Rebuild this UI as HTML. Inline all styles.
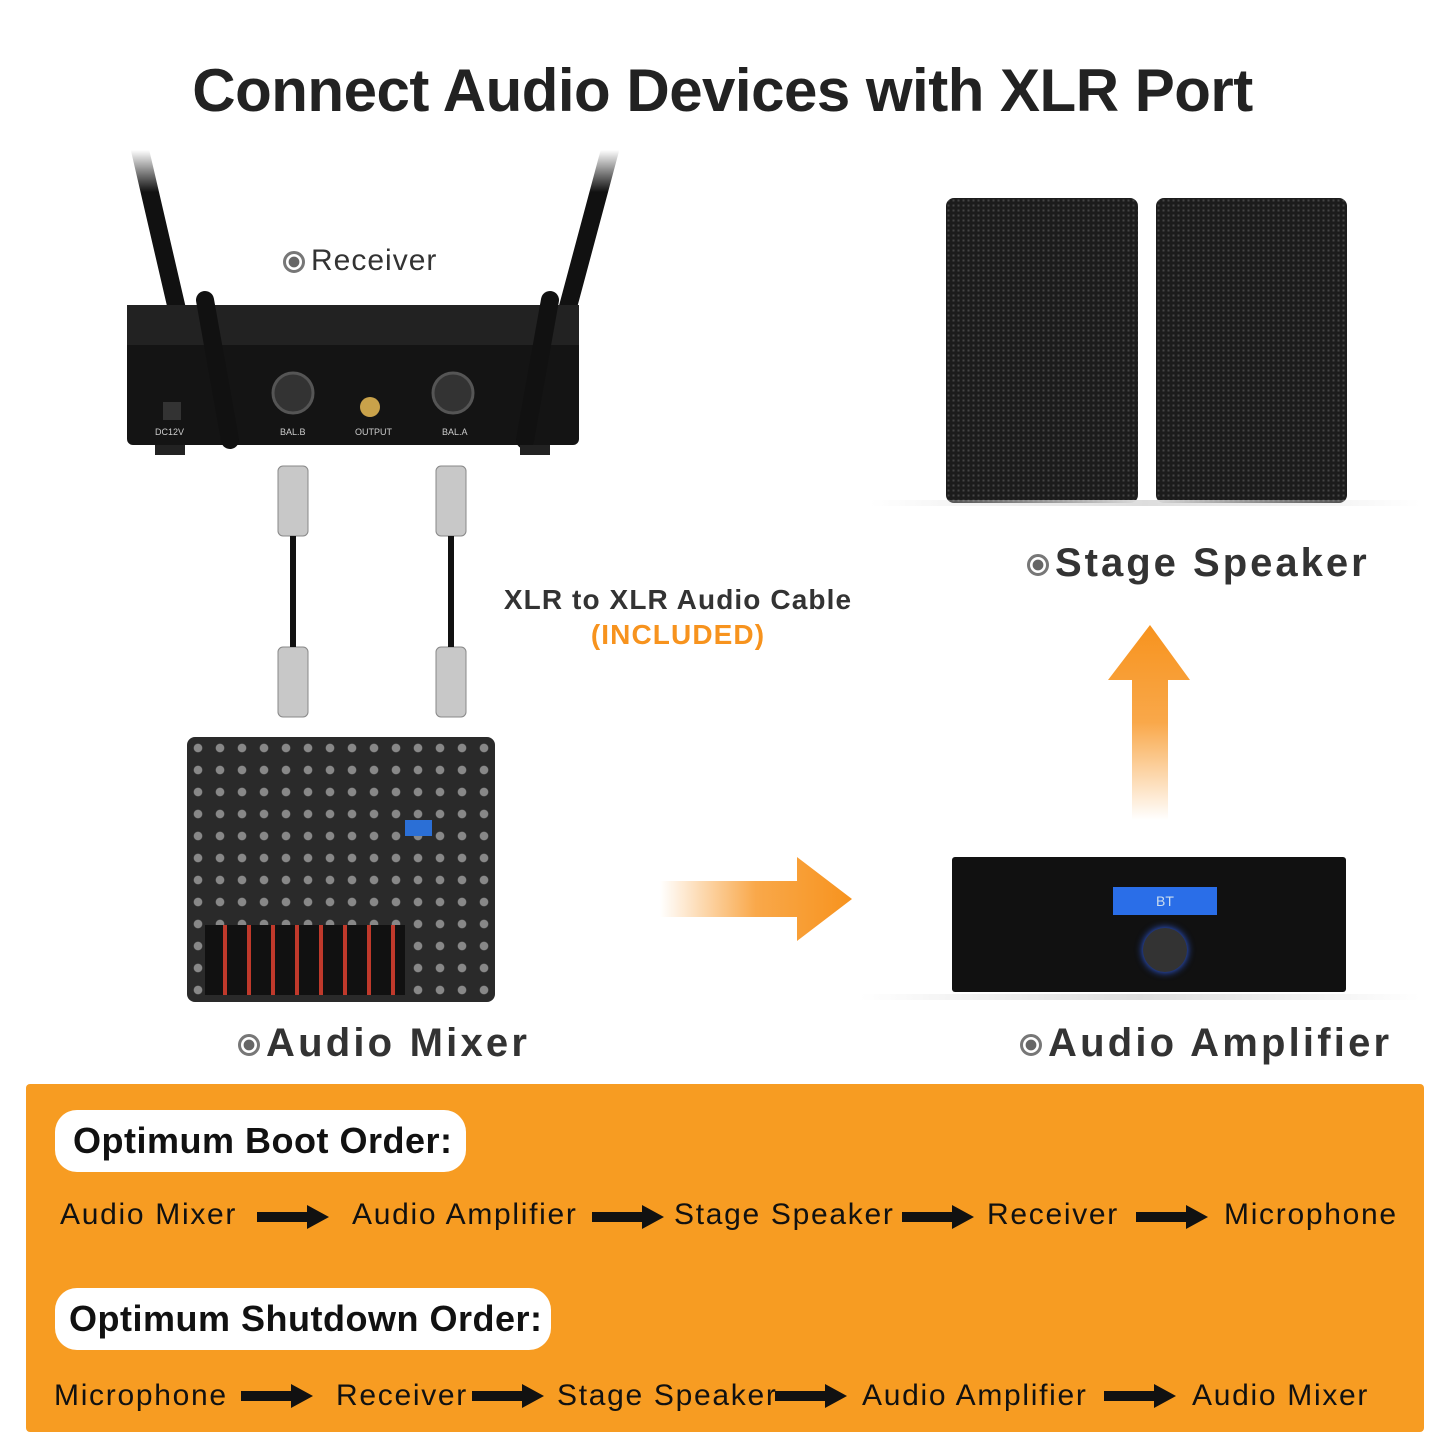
<!DOCTYPE html>
<html><head><meta charset="utf-8"><style>
body{margin:0;width:1445px;height:1445px;background:#fff;position:relative;overflow:hidden;font-family:"Liberation Sans",sans-serif;}
.a{position:absolute;}
.lbl{position:absolute;font-weight:bold;color:#333;white-space:nowrap;}
.dot{display:inline-block;width:22px;height:22px;border-radius:50%;border:3px solid #777;background:radial-gradient(#666 45%,#fff 50%);vertical-align:middle;margin-right:6px;box-sizing:border-box;}
.row{position:absolute;font-size:30px;color:#111;white-space:nowrap;letter-spacing:1.7px;}
.pill{position:absolute;background:#fff;border-radius:22px;font-weight:bold;font-size:36px;color:#111;line-height:62px;padding-left:18px;box-sizing:border-box;letter-spacing:0.5px;}
</style></head><body>
<div class="a" style="left:0;top:56px;width:1445px;text-align:center;font-size:60px;font-weight:bold;color:#222;letter-spacing:-0.5px">Connect Audio Devices with XLR Port</div>

<svg class="a" style="left:110px;top:140px" width="520" height="340">
<defs><linearGradient id="ant" x1="0" y1="0" x2="0" y2="1"><stop offset="0" stop-color="#111" stop-opacity="0"/><stop offset="0.15" stop-color="#111"/></linearGradient></defs>
<line x1="30" y1="10" x2="95" y2="290" stroke="url(#ant)" stroke-width="18" stroke-linecap="round"/>
<line x1="500" y1="10" x2="425" y2="290" stroke="url(#ant)" stroke-width="18" stroke-linecap="round"/>
<rect x="17" y="165" width="452" height="140" rx="6" fill="#141414"/>
<rect x="17" y="165" width="452" height="40" fill="#222"/>
<circle cx="183" cy="253" r="20" fill="#333" stroke="#555" stroke-width="3"/>
<circle cx="343" cy="253" r="20" fill="#333" stroke="#555" stroke-width="3"/>
<circle cx="260" cy="267" r="10" fill="#c9a24a"/>
<rect x="53" y="262" width="18" height="18" fill="#333"/>
<line x1="95" y1="160" x2="120" y2="300" stroke="#111" stroke-width="18" stroke-linecap="round"/>
<line x1="440" y1="160" x2="415" y2="300" stroke="#111" stroke-width="18" stroke-linecap="round"/>
<rect x="45" y="305" width="30" height="10" fill="#222"/><rect x="410" y="305" width="30" height="10" fill="#222"/>
<text x="45" y="295" font-size="9" fill="#ccc" font-family="Liberation Sans">DC12V</text>
<text x="170" y="295" font-size="9" fill="#ccc" font-family="Liberation Sans">BAL.B</text>
<text x="245" y="295" font-size="9" fill="#ccc" font-family="Liberation Sans">OUTPUT</text>
<text x="332" y="295" font-size="9" fill="#ccc" font-family="Liberation Sans">BAL.A</text>
</svg>
<div class="lbl" style="left:283px;top:244px;font-size:30px;font-weight:normal;letter-spacing:1px"><span class="dot"></span>Receiver</div>

<svg class="a" style="left:270px;top:462px" width="200" height="260">
<g fill="#c8c8c8" stroke="#888"><rect x="8" y="4" width="30" height="70" rx="5"/><rect x="166" y="4" width="30" height="70" rx="5"/><rect x="8" y="185" width="30" height="70" rx="5"/><rect x="166" y="185" width="30" height="70" rx="5"/></g>
<line x1="23" y1="74" x2="23" y2="185" stroke="#111" stroke-width="6"/><line x1="181" y1="74" x2="181" y2="185" stroke="#111" stroke-width="6"/>
</svg>
<div class="lbl" style="left:468px;top:582px;width:420px;text-align:center;font-size:28px;line-height:35px;letter-spacing:1.1px">XLR to XLR Audio Cable<br><span style="color:#f7931e">(INCLUDED)</span></div>

<div class="a" style="left:946px;top:198px;width:192px;height:305px;background:#1c1c1c;border-radius:8px;background-image:radial-gradient(#444 30%,transparent 35%);background-size:5px 5px"></div>
<div class="a" style="left:1156px;top:198px;width:191px;height:305px;background:#1c1c1c;border-radius:8px;background-image:radial-gradient(#444 30%,transparent 35%);background-size:5px 5px"></div>
<div class="a" style="left:870px;top:500px;width:550px;height:6px;background:linear-gradient(90deg,transparent,#ddd,transparent)"></div>
<div class="lbl" style="left:1027px;top:541px;font-size:40px;letter-spacing:3px"><span class="dot"></span>Stage Speaker</div>

<svg class="a" style="left:1100px;top:620px" width="100" height="210">
<defs><linearGradient id="gu" x1="0" y1="0" x2="0" y2="1"><stop offset="0" stop-color="#f7931e"/><stop offset="0.5" stop-color="#f9a84a"/><stop offset="1" stop-color="#fff"/></linearGradient></defs>
<path d="M50 5 L90 60 L68 60 L68 200 L32 200 L32 60 L8 60 Z" fill="url(#gu)"/></svg>

<div class="a" style="left:187px;top:737px;width:308px;height:265px;background:#2a2a2a;border-radius:8px;background-image:radial-gradient(#888 25%,transparent 30%);background-size:22px 22px"></div>
<div class="a" style="left:205px;top:925px;width:200px;height:70px;background:repeating-linear-gradient(90deg,#111 0 18px,#c0392b 18px 22px,#111 22px 24px)"></div>
<div class="a" style="left:405px;top:820px;width:27px;height:16px;background:#2b6fd6"></div>

<svg class="a" style="left:655px;top:855px" width="200" height="90">
<defs><linearGradient id="gr" x1="0" y1="0" x2="1" y2="0"><stop offset="0" stop-color="#fff"/><stop offset="0.5" stop-color="#f9a84a"/><stop offset="1" stop-color="#f7931e"/></linearGradient></defs>
<path d="M5 26 L142 26 L142 2 L197 44 L142 86 L142 62 L5 62 Z" fill="url(#gr)"/></svg>

<div class="a" style="left:952px;top:857px;width:394px;height:135px;background:#111;border-radius:3px"></div>
<div class="a" style="left:1113px;top:887px;width:104px;height:28px;background:#2a6ee8;color:#cde;font-size:14px;text-align:center;line-height:28px">BT</div>
<div class="a" style="left:1143px;top:928px;width:44px;height:44px;border-radius:50%;background:#333;box-shadow:0 0 8px #36f"></div>
<div class="a" style="left:860px;top:994px;width:560px;height:6px;background:linear-gradient(90deg,transparent,#ddd,transparent)"></div>

<div class="lbl" style="left:238px;top:1021px;font-size:40px;letter-spacing:3.2px"><span class="dot"></span>Audio Mixer</div>
<div class="lbl" style="left:1020px;top:1021px;font-size:40px;letter-spacing:3.2px"><span class="dot"></span>Audio Amplifier</div>

<div class="a" style="left:26px;top:1084px;width:1398px;height:348px;background:#f79c22;border-radius:4px"></div>
<div class="pill" style="left:55px;top:1110px;width:411px;height:62px">Optimum Boot Order:</div>
<div class="pill" style="left:55px;top:1288px;width:496px;height:62px;padding-left:14px">Optimum Shutdown Order:</div>

<div class="row" style="left:60px;top:1198px">Audio Mixer</div>
<div class="row" style="left:352px;top:1198px">Audio Amplifier</div>
<div class="row" style="left:674px;top:1198px">Stage Speaker</div>
<div class="row" style="left:987px;top:1198px">Receiver</div>
<div class="row" style="left:1224px;top:1198px">Microphone</div>

<div class="row" style="left:54px;top:1379px">Microphone</div>
<div class="row" style="left:336px;top:1379px">Receiver</div>
<div class="row" style="left:557px;top:1379px">Stage Speaker</div>
<div class="row" style="left:862px;top:1379px">Audio Amplifier</div>
<div class="row" style="left:1192px;top:1379px">Audio Mixer</div>

<svg class="a" style="left:0;top:0" width="1445" height="1445">
<defs><path id="ar" d="M0 -5 L50 -5 L50 -12 L72 0 L50 12 L50 5 L0 5 Z" fill="#111"/></defs>
<use href="#ar" x="257" y="1217"/><use href="#ar" x="592" y="1217"/><use href="#ar" x="902" y="1217"/><use href="#ar" x="1136" y="1217"/>
<use href="#ar" x="241" y="1396"/><use href="#ar" x="472" y="1396"/><use href="#ar" x="775" y="1396"/><use href="#ar" x="1104" y="1396"/>
</svg>
</body></html>
